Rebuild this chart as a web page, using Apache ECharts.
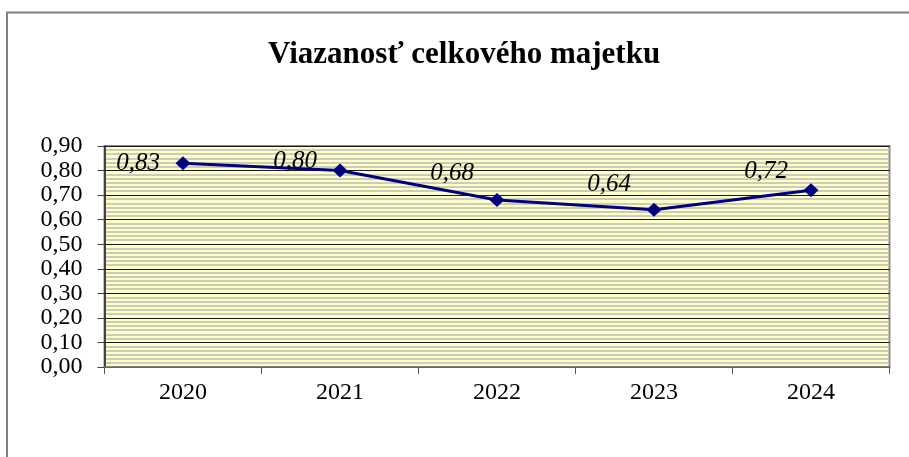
<!DOCTYPE html>
<html>
<head>
<meta charset="utf-8">
<script src="https://cdn.jsdelivr.net/npm/echarts@6/dist/echarts.min.js"></script>
<style>
  html, body { margin: 0; padding: 0; background: #fff; }
  #chart { width: 909px; height: 457px; }
</style>
</head>
<body>
<div id="chart"></div>
<script>
// data
var years = ['2020', '2021', '2022', '2023', '2024']
var viazanost = [0.83, 0.80, 0.68, 0.64, 0.72]
var yTicks = [0, 0.1, 0.2, 0.3, 0.4, 0.5, 0.6, 0.7, 0.8, 0.9]

// label nudges (Excel places them a bit differently per point)
var labelDy = [0, -9, -27, -25, -19]

var serif = "'Liberation Serif', 'Times New Roman', serif"

var chart = echarts.init(document.getElementById('chart'))

var points = viazanost.map(function(v, i) {
  return {
    value: v,
    label: { offset: [-45, labelDy[i]] }
  }
})

var option = {
  animation: false,
  backgroundColor: '#ffffff',
  graphic: [
    {
      // outer chart frame, runs off the right and bottom edge
      type: 'rect',
      shape: { x: 7, y: 12.5, width: 1000, height: 1000 },
      style: { fill: 'none', stroke: '#7f7f7f', lineWidth: 2 },
      silent: true
    },
    {
      type: 'text',
      left: 268,
      top: 39,
      style: {
        text: 'Viazanosť celkového majetku',
        font: 'bold 31px ' + serif,
        fill: '#000'
      }
    }
  ],
  grid: {
    left: 104.5,
    right: 19.5,
    top: 146,
    bottom: 90,
    show: true,
    backgroundColor: '#ffffcc',
    borderColor: '#8c8c8c',
    borderWidth: 2
  },
  xAxis: {
    type: 'category',
    data: years,
    boundaryGap: true,
    axisLine: { lineStyle: { color: '#808080', width: 1.5 } },
    axisTick: { show: true, alignWithLabel: false, length: 7, inside: false, lineStyle: { color: '#555' } },
    axisLabel: { color: '#000', fontFamily: serif, fontSize: 24, margin: 14 },
    splitLine: { show: false }
  },
  yAxis: {
    type: 'value',
    min: yTicks[0],
    max: yTicks[yTicks.length - 1],
    interval: 0.1,
    axisLine: { show: true, lineStyle: { color: '#222', width: 1.5 } },
    axisTick: { show: true, length: 7, lineStyle: { color: '#444' } },
    axisLabel: {
      color: '#000',
      fontFamily: serif,
      fontSize: 24,
      margin: 22,
      showMinLabel: true,
      showMaxLabel: true,
      formatter: function(v) {
        return v.toFixed(2).replace('.', ',')
      }
    },
    splitLine: { show: true, lineStyle: { color: '#1a1a1a', width: 1 } },
    minorTick: { show: false, splitNumber: 6 },
    minorSplitLine: { show: true, lineStyle: { color: '#bdbdb0', width: 1.6 } }
  },
  series: [
    {
      name: 'Viazanosť celkového majetku',
      type: 'line',
      data: points,
      symbol: 'diamond',
      symbolSize: [15, 14],
      itemStyle: { color: '#000080' },
      lineStyle: { color: '#000080', width: 3 },
      label: {
        show: true,
        position: 'inside',
        align: 'center',
        verticalAlign: 'middle',
        color: '#000',
        fontFamily: serif,
        fontStyle: 'italic',
        fontSize: 25,
        formatter: function(p) {
          return p.value.toFixed(2).replace('.', ',')
        }
      },
      z: 5
    }
  ]
}

chart.setOption(option)
</script>
</body>
</html>
